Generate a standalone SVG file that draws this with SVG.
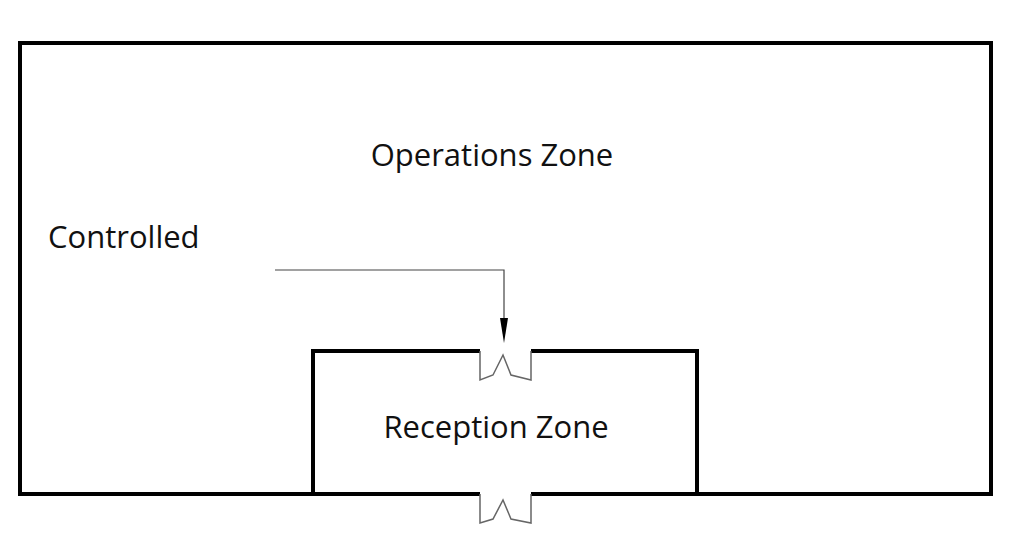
<svg xmlns="http://www.w3.org/2000/svg" width="1015" height="548" viewBox="0 0 1015 548">
<style>
.wall{fill:none;stroke:#000;stroke-width:4}
.door{fill:none;stroke:#666;stroke-width:1.5}
.t{font-family:"Open Sans","Noto Sans",sans-serif;font-size:31px;fill:#111}
.c{fill:none;stroke:#444;stroke-width:1.2}
</style>
<defs><marker id="ah" markerWidth="8" markerHeight="26" refX="4" refY="26" orient="auto" markerUnits="userSpaceOnUse"><path d="M0,0 L8,0 L4,26 Z" fill="#000" transform="rotate(-90 4 13)"/></marker></defs>
<rect width="1015" height="548" fill="#fff"/>
<g id="operations-zone">
<path class="wall" d="M480,494 H20 V43 H991 V494 H531 M697,494"/>
<text class="t" x="492" y="166" text-anchor="middle">Operations Zone</text>
</g>
<g id="reception-zone">
<path class="wall" d="M480,351 H313 V494 M531,351 H697 V494"/>
<text class="t" x="496" y="438" text-anchor="middle">Reception Zone</text>
</g>
<g id="doors">
<path class="door" d="M480,351 V380 L493,375 L503,355 L511,375 L531,380 V351"/>
<path class="door" d="M480,494 V523 L493,519 L503,500 L511,519 L531,523 V494"/>
</g>
<g id="controlled-label"><text class="t" x="48" y="248">Controlled</text></g>
<g id="connectors">
<path class="c" d="M275,270 H504 V318"/>
<path d="M500,318 L508,318 L504,343 Z" fill="#000"/>
</g>
</svg>
